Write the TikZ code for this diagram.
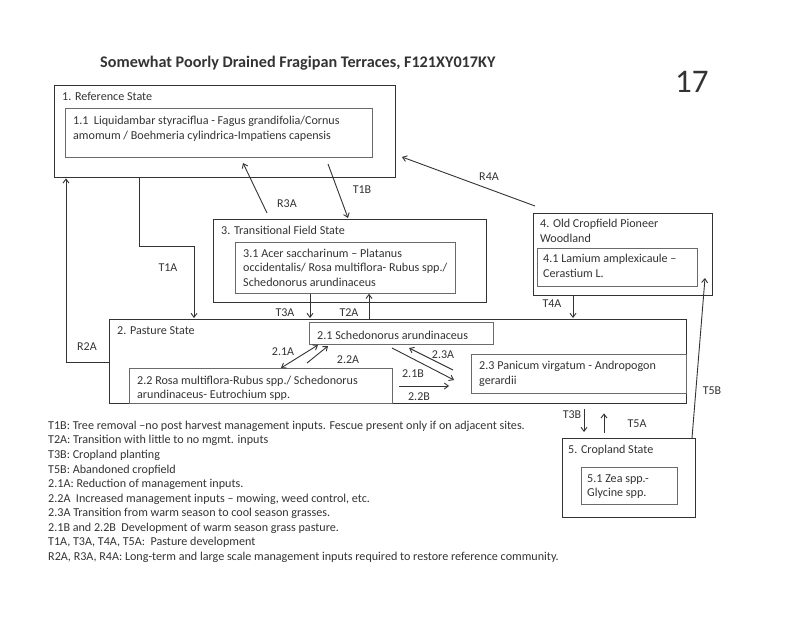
\documentclass[tikz,border=0pt]{standalone}
\usepackage{fontspec}
\setmainfont{Carlito}
\usetikzlibrary{arrows.meta}

\definecolor{inkgray}{HTML}{333333}
\definecolor{boxgray}{HTML}{6A6A6A}

\begin{document}
\begin{tikzpicture}[
    x = 1pt, y = -1pt,
    >={Straight Barb[length=4pt,width=6pt]},
    every node/.style = {text = inkgray},
    statebox/.style = {draw = inkgray, line width = 1.4pt, anchor = north west, inner sep = 0pt},
    commbox/.style = {draw = boxgray, line width = 0.8pt, anchor = north west, inner sep = 0pt},
    txt/.style = {anchor = north west, inner sep = 0pt, align = left, font = \fontsize{12.1}{15}\selectfont},
    tag/.style = {inner sep = 0pt, font = \fontsize{12}{13}\selectfont},
    link/.style = {draw = inkgray, line width = 0.9pt, ->}]

\useasboundingbox (0,0) rectangle (800,617);

% title
\node[anchor = west, inner sep = 0pt, font = \bfseries\fontsize{16.2}{18}\selectfont] (title) at (100,63)
	{Somewhat Poorly Drained Fragipan Terraces, F121XY017KY};
\node[anchor = west, inner sep = 0pt, font = \fontsize{33}{36}\selectfont] (page) at (675,82) {17};

% states and communities
\node[statebox, minimum width = 341pt, minimum height = 92pt] (ref) at (54,85) {};
\node[commbox, minimum width = 307pt, minimum height = 49pt] (ref11) at (65,108) {};
\node[statebox, minimum width = 273pt, minimum height = 83pt] (trans) at (213,219) {};
\node[commbox, minimum width = 220pt, minimum height = 51pt] (trans31) at (235,242) {};
\node[statebox, minimum width = 179pt, minimum height = 82pt] (old) at (533,213) {};
\node[commbox, minimum width = 160pt, minimum height = 38pt] (old41) at (537,248) {};
\node[statebox, minimum width = 577pt, minimum height = 84pt] (past) at (109,319) {};
\node[commbox, minimum width = 184pt, minimum height = 22pt] (past21) at (309,322) {};
\node[commbox, minimum width = 263pt, minimum height = 35pt] (past22) at (129,368) {};
\node[commbox, minimum width = 215pt, minimum height = 39pt] (past23) at (471,354) {};
\node[statebox, minimum width = 133pt, minimum height = 79pt] (crop) at (562,438) {};
\node[commbox, minimum width = 96pt, minimum height = 37pt] (crop51) at (581,467) {};

% texts in the boxes
\node[txt] (refname) at (62,91.8) {1. Reference State};
\node[txt] (ref11name) at (73,115.8) {1.1\ \ Liquidambar styraciflua - Fagus grandifolia/Cornus\\amomum / Boehmeria cylindrica-Impatiens capensis};
\node[txt] (transname) at (221,225.8) {3. Transitional Field State};
\node[txt, font = \fontsize{12.1}{14.5}\selectfont] (trans31name) at (243,248.8) {3.1 Acer saccharinum -- Platanus\\occidentalis/ Rosa multiflora- Rubus spp./\\Schedonorus arundinaceus};
\node[txt] (oldname) at (540,218.8) {4. Old Cropfield Pioneer\\Woodland};
\node[txt] (old41name) at (543,253.8) {4.1 Lamium amplexicaule --\\Cerastium L.};
\node[txt] (pastname) at (117,326.8) {2. Pasture State};
\node[txt] (past21name) at (317,330.8) {2.1 Schedonorus arundinaceus};
\node[txt, font = \fontsize{12.1}{14.5}\selectfont] (past22name) at (137,375.8) {2.2 Rosa multiflora-Rubus spp./ Schedonorus\\arundinaceus- Eutrochium spp.};
\node[txt] (past23name) at (479,360.8) {2.3 Panicum virgatum - Andropogon\\gerardii};
\node[txt] (cropname) at (568,444.8) {5. Cropland State};
\node[txt, font = \fontsize{12.1}{13.5}\selectfont] (crop51name) at (587,474.8) {5.1 Zea spp.-\\Glycine spp.};

% free ends of the slanted connectors
\coordinate (r3aT) at (267,213);  \coordinate (r3aH) at (243,163);
\coordinate (t1bT) at (328,164);  \coordinate (t1bH) at (348,218);
\coordinate (r4aT) at (535,206);  \coordinate (r4aH) at (402,157);
\coordinate (t5bT) at (692,438);  \coordinate (t5bH) at (705,278);
\coordinate (t1aK) at (139,246);
\coordinate (a21aT) at (318,345); \coordinate (a21aH) at (281,368);
\coordinate (a22aT) at (307,363); \coordinate (a22aH) at (328,346);
\coordinate (a23aT) at (453,370); \coordinate (a23aH) at (409,348);
\coordinate (a21bT) at (392,348); \coordinate (a21bH) at (454,380);
\coordinate (a22bT) at (399,386); \coordinate (a22bH) at (449,386);

% connectors
\draw[link] (r3aT) -- (r3aH);
\draw[link] (t1bT) -- (t1bH);
\draw[link] (r4aT) -- (r4aH);
\draw[link] (t5bT) -- (t5bH);
\draw[link, shorten > = 1pt] (ref.south -| t1aK) -- (t1aK) -| (past.north -| 194,0);
\draw[link] (past.west |- 0,362) -| (ref.south -| 66,0);
\draw[link, shorten > = 1pt] (trans31.south -| 310,0) -- (past.north -| 310,0);
\draw[link] (past.north -| 369,0) -- (trans31.south -| 369,0);
\draw[link, shorten > = 1pt] (old.south -| 573,0) -- (past.north -| 573,0);
\draw[link, shorten < = 5pt, shorten > = 6pt] (past.south -| 584,0) -- (crop.north -| 584,0);
\draw[link, shorten < = 5pt, shorten > = 9pt] (crop.north -| 604,0) -- (past.south -| 604,0);
\draw[link, <->] (a21aT) -- (a21aH);
\draw[link] (a22aT) -- (a22aH);
\draw[link] (a23aT) -- (a23aH);
\draw[link] (a21bT) -- (a21bH);
\draw[link] (a22bT) -- (a22bH);

% connector labels
\path (287,204) node[tag] (r3a) {R3A}
	  (362,190) node[tag] (t1b) {T1B}
	  (489,177) node[tag] (r4a) {R4A}
	  (168,268) node[tag] (t1a) {T1A}
	  (87,347) node[tag] (r2a) {R2A}
	  (285,313) node[tag] (t3a) {T3A}
	  (349,313) node[tag] (t2a) {T2A}
	  (552,304) node[tag] (t4a) {T4A}
	  (572,415) node[tag] (t3b) {T3B}
	  (637,424) node[tag] (t5a) {T5A}
	  (712,391) node[tag] (t5b) {T5B}
	  (283,352) node[tag] (l21a) {2.1A}
	  (348,360) node[tag] (l22a) {2.2A}
	  (443,355) node[tag] (l23a) {2.3A}
	  (413,374) node[tag] (l21b) {2.1B}
	  (419,397) node[tag] (l22b) {2.2B}
	  ;

% legend
\node[txt, font = \fontsize{12.1}{14.56}\selectfont] (legend) at (48,420.8)
	{T1B: Tree removal --no post harvest management inputs. Fescue present only if on adjacent sites.\\
	 T2A: Transition with little to no mgmt. inputs\\
	 T3B: Cropland planting\\
	 T5B: Abandoned cropfield\\
	 2.1A: Reduction of management inputs.\\
	 2.2A\ \ Increased management inputs -- mowing, weed control, etc.\\
	 2.3A Transition from warm season to cool season grasses.\\
	 2.1B and 2.2B\ \ Development of warm season grass pasture.\\
	 T1A, T3A, T4A, T5A:\ \ Pasture development\\
	 R2A, R3A, R4A: Long-term and large scale management inputs required to restore reference community.};
\end{tikzpicture}
\end{document}
